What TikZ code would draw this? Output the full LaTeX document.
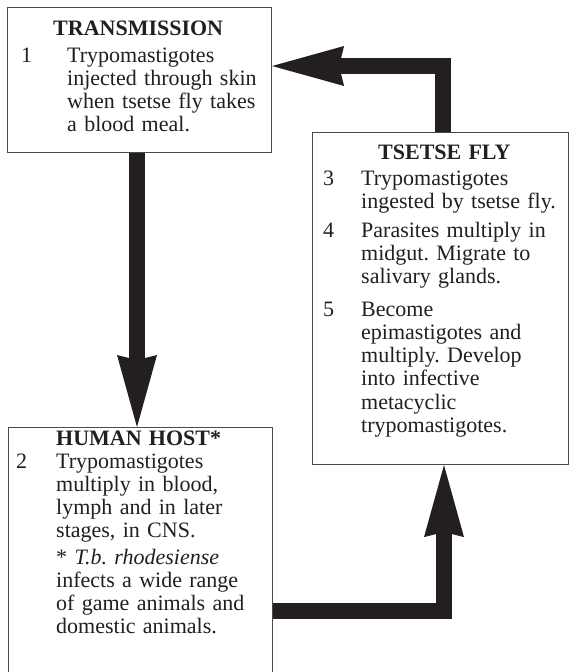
\documentclass[tikz,border=0pt]{standalone}
\usepackage{fontspec}
\setmainfont{Liberation Serif}[WordSpace=1.3]
\usetikzlibrary{arrows.meta,calc}
\definecolor{inkblack}{HTML}{231F20}
\definecolor{boxgray}{HTML}{4A4A4A}
\newcommand\bodyfont{\fontsize{22}{23.3}\selectfont\frenchspacing}
\begin{document}
\begin{tikzpicture}[x=1pt,y=-1pt,
  box/.style={draw=boxgray, line width=1.1pt, inner sep=0pt, anchor=north west, fill=white},
  txt/.style={anchor=base west, inner sep=0pt, align=left, text width=240pt, font=\bodyfont, text=inkblack},
  num/.style={anchor=base west, inner sep=0pt, font=\bodyfont, text=inkblack},
  head/.style={anchor=base west, inner sep=0pt, font=\bodyfont\bfseries, text=inkblack},
  flow/.style={draw=inkblack, line width=16pt, line join=miter,
    -{Stealth[length=72pt,width=40pt,inset=5pt,line width=0pt]}}
]
\useasboundingbox (0,0) rectangle (569,672);
\begin{scope}
\clip (0,0) rectangle (569,672);
% boxes
\node[box, minimum width=264pt, minimum height=145pt] (trans) at (7,7) {};
\node[box, minimum width=264pt, minimum height=260pt] (human) at (8,427) {};
\node[box, minimum width=256pt, minimum height=332pt] (tsetse) at (312,132) {};

% connectors
\draw[flow] ($(trans.south west)+(130,0)$) -- ($(human.north west)+(129,0)$);
\coordinate (flyTop) at ($(tsetse.north west)+(131,0)$);
\coordinate (transIn) at ($(trans.north east)+(0,59)$);
\draw[flow] (flyTop) |- (transIn);
\coordinate (humanOut) at ($(human.north east)+(0,184)$);
\coordinate (flyIn) at ($(tsetse.south west)+(132,0)$);
\draw[flow] (humanOut) -| (flyIn);
\end{scope}

% TRANSMISSION
\node[head] (hTrans) at (53,35) {TRANSMISSION};
\node[num] (n1) at (21,62) {1};
\node[txt] (p1) at (67,62) {Trypomastigotes\\injected through skin\\when tsetse fly takes\\a blood meal.};

% TSETSE FLY
\node[head] (hFly) at (378,159) {TSETSE FLY};
\node[num] (n3) at (323,185) {3};
\node[txt] (p3) at (361,185) {Trypomastigotes\\ingested by tsetse fly.};
\node[num] (n4) at (323,237) {4};
\node[txt] (p4) at (361,237) {Parasites multiply in\\midgut. Migrate to\\salivary glands.};
\node[num] (n5) at (323,316) {5};
\node[txt] (p5) at (361,316) {Become\\epimastigotes and\\multiply. Develop\\into infective\\metacyclic\\trypomastigotes.};

% HUMAN HOST
\node[head] (hHuman) at (56,445) {HUMAN HOST*};
\node[num] (n2) at (16,468) {2};
\node[txt] (p2) at (56,468) {Trypomastigotes\\multiply in blood,\\lymph and in later\\stages, in CNS.};
\node[txt] (pNote) at (56,564) {* \textit{T.b. rhodesiense}\\infects a wide range\\of game animals and\\domestic animals.};
\end{tikzpicture}
\end{document}
